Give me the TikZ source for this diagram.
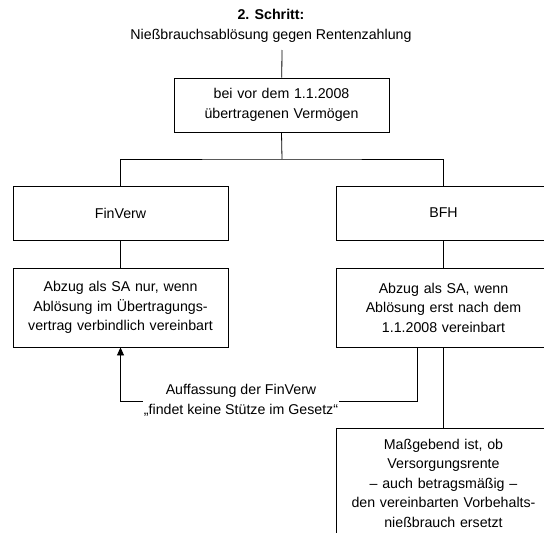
\documentclass[tikz,border=0pt]{standalone}
\usepackage{fontspec}
\setmainfont{Liberation Sans}
\usepackage{tikz}
\usetikzlibrary{arrows.meta}

\begin{document}
\begin{tikzpicture}[x=1pt,y=-1pt,line width=0.8pt,>={Triangle[length=8pt,width=7pt]},
                    every node/.style={font=\fontsize{14.2}{19.5}\selectfont,align=center},
                    box/.style={draw,minimum width=215pt,text width=207pt,inner sep=0pt}]

\useasboundingbox (0,0) rectangle (544,533);
\clip (0,0) rectangle (544,533);

\node (titel) at (271,26) {\textbf{2. Schritt:}\\Nießbrauchsablösung gegen Rentenzahlung};
\node[box] (alt) [minimum height=54pt] at (281.5,105) {bei vor dem 1.1.2008\\übertragenen Vermögen};
\node[box] (finv) [minimum height=54pt] at (120.5,213) {FinVerw};
\node[box] (bfh) [minimum height=54pt] at (443.5,213) {BFH};
\node[box] (finvsa) [minimum height=79pt] at (120.5,307.5) {Abzug als SA nur, wenn\\Ablösung im Übertragungs-\\vertrag verbindlich vereinbart};
\node[box] (bfhsa) [minimum height=79pt] at (443.5,307.5) {Abzug als SA, wenn\\Ablösung erst nach dem\\1.1.2008 vereinbart};
\node[box] (mass) [minimum height=110pt,anchor=north] at (443.5,428) {Maßgebend ist, ob\\Versorgungsrente\\– auch betragsmäßig –\\den vereinbarten Vorbehalts-\\nießbrauch ersetzt};

\coordinate (oben) at (282,50);
\coordinate (split) at (282,159);
\coordinate (ecke) at (417,401);

\draw (oben) -- (alt);
\draw (alt.south) -- (split);
\draw (finv.north) |- (split) -| (bfh.north);
\draw (finv) -- (finvsa);
\draw (bfh) -- (bfhsa);
\draw (bfhsa.south) -- (mass.north);
\draw[->] (ecke |- bfhsa.south) |- (finvsa.south |- ecke) -- (finvsa.south);

\node[fill=white,inner sep=1pt] (auff) at (241,400.5) {Auffassung der FinVerw\\„findet keine Stütze im Gesetz“};
\end{tikzpicture}
\end{document}
